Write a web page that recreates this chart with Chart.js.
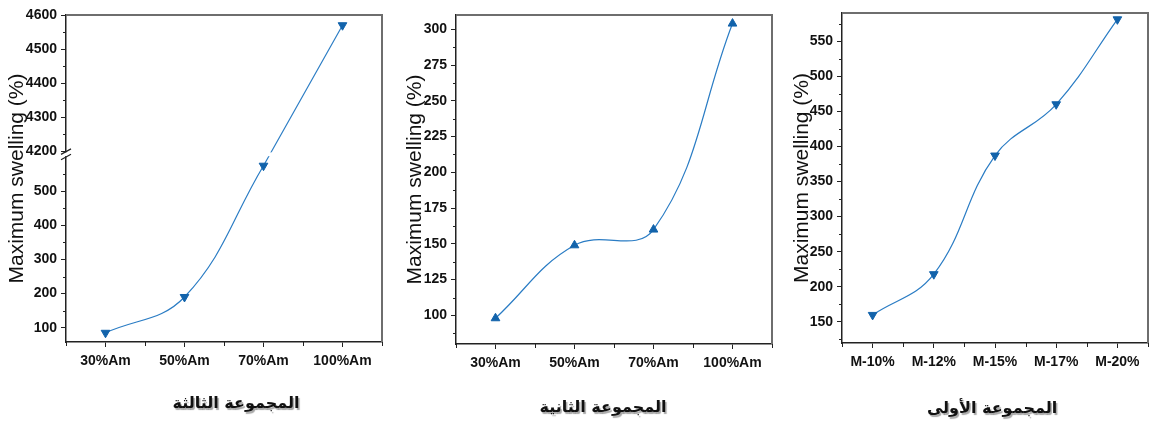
<!DOCTYPE html>
<html>
<head>
<meta charset="utf-8">
<script src="https://cdn.jsdelivr.net/npm/chart.js@4.4.1/dist/chart.umd.min.js"></script>
<style>
  body { margin: 0; background: #fff; width: 1154px; height: 426px; overflow: hidden; position: relative; }
  canvas { position: absolute; top: 0; }
</style>
</head>
<body>
<canvas id="c3" width="390" height="426" style="left:0px"></canvas>
<canvas id="c2" width="390" height="426" style="left:390px"></canvas>
<canvas id="c1" width="374" height="426" style="left:780px"></canvas>
<script>
// data
const amLabels = ["30%Am", "50%Am", "70%Am", "100%Am"]
const mLabels = ["M-10%", "M-12%", "M-15%", "M-17%", "M-20%"]
const swellingThird = [85, 190, 575, 4570]
const swellingSecond = [98, 149, 160, 304]
const swellingFirst = [160, 218, 387, 460, 581]

const thirdTicks = [100, 200, 300, 400, 500, 4200, 4300, 4400, 4500, 4600]
const thirdMinor = [150, 250, 350, 450, 550, 4250, 4350, 4450, 4550]
const secondTicks = [100, 125, 150, 175, 200, 225, 250, 275, 300]
const secondMinor = [87.5, 112.5, 137.5, 162.5, 187.5, 212.5, 237.5, 262.5, 287.5]
const firstTicks = [150, 200, 250, 300, 350, 400, 450, 500, 550]
const firstMinor = [125, 175, 225, 275, 325, 375, 425, 475, 525, 575]

const groupTitles = ["المجموعة الثالثة", "المجموعة الثانية", "المجموعة الأولى"]
const yTitle = "Maximum swelling (%)"

const lineColor = "#2a7cc4"
const markColor = "#1263ab"
const tickFont = { family: '"Liberation Sans", Arial, sans-serif', size: 14, weight: "bold" }

// y axis with a break (lower part 58..600, upper part 4200..4600)
class BrokenScale extends Chart.LinearScale {
    static id = "broken"
    buildTicks() {
        return (this.options.tickValues || []).map(v => ({ value: v }))
    }
    units(v) {
        const b = this.options.breakRange
        if (v <= b[0]) return v - this.options.min
        const low = b[0] - this.options.min
        const gap = this.options.gapUnits
        if (v >= b[1]) return low + gap + (v - b[1])
        return low + gap * (v - b[0]) / (b[1] - b[0])
    }
    getPixelForValue(v) {
        if (v === null || v === undefined) return NaN
        return this.getPixelForDecimal(this.units(v) / this.units(this.options.max))
    }
}
Chart.register(BrokenScale)

function makeChart(id, cfg) {
    const canvas = document.getElementById(id)
    const W = canvas.width, H = canvas.height
    const extras = {
        id: "extras",
        beforeDatasetsDraw(chart) {
            const { ctx, chartArea: a } = chart
            ctx.save()
            ctx.strokeStyle = "#6e6e6e"
            ctx.lineWidth = 2
            ctx.beginPath()
            ctx.moveTo(a.left, a.top)
            ctx.lineTo(a.right, a.top)
            ctx.lineTo(a.right, a.bottom)
            ctx.stroke()
            ctx.restore()
        },
        afterDraw(chart) {
            const { ctx, chartArea: a } = chart
            const x = chart.scales.x, y = chart.scales.y
            ctx.save()
            ctx.strokeStyle = "#222"
            ctx.lineWidth = 1
            // minor ticks
            ctx.beginPath()
            cfg.minor.forEach(v => {
                const py = Math.round(y.getPixelForValue(v)) + 0.5
                ctx.moveTo(a.left, py)
                ctx.lineTo(a.left - 3, py)
            })
            const step = x.getPixelForValue(1) - x.getPixelForValue(0)
            for (let i = 0; i <= cfg.labels.length; i++) {
                const px = Math.round(x.getPixelForValue(0) - step / 2 + i * step) + 0.5
                ctx.moveTo(px, a.bottom)
                ctx.lineTo(px, a.bottom + 4)
            }
            ctx.stroke()
            // axis break
            if (cfg.breakRange) {
                const p1 = y.getPixelForValue(cfg.breakRange[1])
                const p0 = y.getPixelForValue(cfg.breakRange[0])
                ctx.fillStyle = "#fff"
                ctx.fillRect(a.left - 2, p1 + 1, a.right - a.left - 1, p0 - p1 - 2)
                ctx.lineWidth = 1.2
                ctx.beginPath()
                ctx.moveTo(a.left - 5, p1 + 3)
                ctx.lineTo(a.left + 5, p1 - 2.5)
                ctx.moveTo(a.left - 5, p0 + 2.5)
                ctx.lineTo(a.left + 5, p0 - 3)
                ctx.stroke()
            }
            // group caption
            ctx.font = 'bold 16px "DejaVu Sans", sans-serif'
            ctx.textAlign = "center"
            ctx.textBaseline = "middle"
            ctx.shadowColor = "rgba(0,0,0,0.35)"
            ctx.shadowOffsetX = 1.5
            ctx.shadowOffsetY = 1.5
            ctx.shadowBlur = 1
            ctx.fillStyle = "#111"
            ctx.fillText(cfg.title, cfg.titlePos[0], cfg.titlePos[1])
            ctx.restore()
        }
    }

    const yScale = {
        type: cfg.breakRange ? "broken" : "linear",
        min: cfg.min,
        max: cfg.max,
        tickValues: cfg.ticks,
        breakRange: cfg.breakRange,
        gapUnits: cfg.gapUnits,
        afterBuildTicks: s => { s.ticks = cfg.ticks.map(v => ({ value: v })) },
        afterFit: s => { s.width = cfg.area[0] },
        grid: { drawOnChartArea: false, tickLength: 5, tickColor: "#222", tickWidth: 1 },
        border: { color: "#222", width: 1.5 },
        ticks: { color: "#111", font: tickFont, padding: 4, callback: v => v },
        title: {
            display: true, text: yTitle, color: "#111",
            font: { family: '"Liberation Sans", Arial, sans-serif', size: 21 },
            padding: { top: cfg.yTitlePad, bottom: 0 }
        }
    }

    return new Chart(canvas, {
        type: "line",
        data: { labels: cfg.labels, datasets: cfg.datasets },
        options: {
            responsive: false,
            animation: false,
            devicePixelRatio: 1,
            layout: { padding: { top: cfg.area[1], right: W - cfg.area[2], bottom: 0, left: 0 } },
            plugins: { legend: { display: false }, tooltip: { enabled: false } },
            scales: {
                x: {
                    type: "category",
                    offset: true,
                    afterFit: s => { s.height = H - cfg.area[3] },
                    grid: { drawOnChartArea: false, offset: false, tickLength: 5, tickColor: "#222", tickWidth: 1 },
                    border: { color: "#222", width: 1.5 },
                    ticks: { color: "#111", font: tickFont, padding: 6, maxRotation: 0, autoSkip: false }
                },
                y: yScale
            }
        },
        plugins: [extras]
    })
}

function series(data, down, extra) {
    return Object.assign({
        data: data,
        borderColor: lineColor,
        borderWidth: 1.2,
        tension: 0.4,
        pointStyle: "triangle",
        rotation: down ? 180 : 0,
        pointRadius: 5,
        pointBackgroundColor: markColor,
        pointBorderColor: markColor,
        pointBorderWidth: 1
    }, extra || {})
}

// third group: curved lower part, straight run up across the break
makeChart("c3", {
    labels: amLabels,
    min: 58, max: 4600,
    breakRange: [600, 4200], gapUnits: 17,
    ticks: thirdTicks, minor: thirdMinor,
    area: [66, 15, 382, 342],
    yTitlePad: 5,
    title: groupTitles[0], titlePos: [236, 404],
    datasets: [
        series(swellingThird.slice(0, 3), true),
        series(swellingThird.map((v, i) => i >= 2 ? v : null), true, { tension: 0, pointRadius: [0, 0, 0, 5] })
    ]
})

makeChart("c2", {
    labels: amLabels,
    min: 80, max: 310,
    ticks: secondTicks, minor: secondMinor,
    area: [66, 15, 382, 344],
    yTitlePad: 13,
    title: groupTitles[1], titlePos: [213, 408],
    datasets: [series(swellingSecond, false)]
})

makeChart("c1", {
    labels: mLabels,
    min: 120, max: 590,
    ticks: firstTicks, minor: firstMinor,
    area: [62, 13, 373, 343],
    yTitlePad: 10,
    title: groupTitles[2], titlePos: [212, 409],
    datasets: [series(swellingFirst, true)]
})
</script>
</body>
</html>
